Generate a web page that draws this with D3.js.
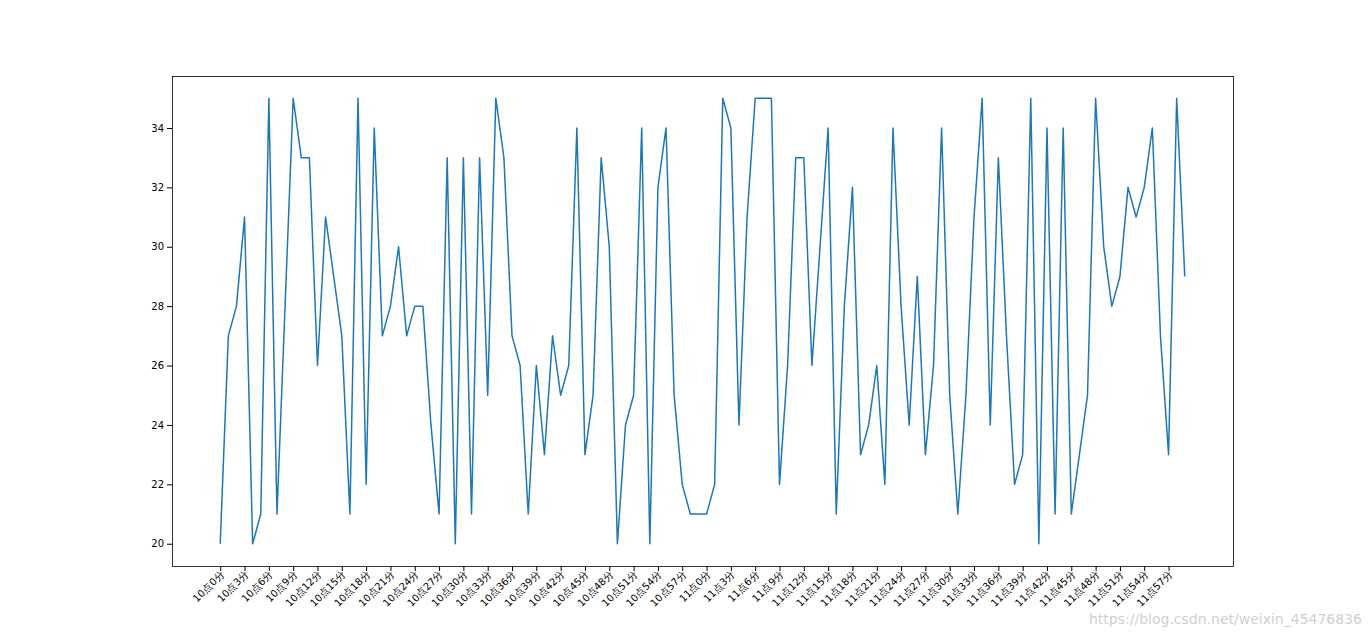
<!DOCTYPE html>
<html><head><meta charset="utf-8">
<script src="https://cdn.jsdelivr.net/npm/d3@7/dist/d3.min.js"></script>
<style>body{margin:0;background:#fff}svg{display:block}</style>
</head><body>
<svg id="c" width="1370" height="637"></svg>
<script>
const values = [20,27,28,31,20,21,35,21,28,35,33,33,26,31,29,27,21,35,22,34,
27,28,30,27,28,28,24,21,33,20,33,21,33,25,35,33,27,26,21,26,
23,27,25,26,34,23,25,33,30,20,24,25,34,20,32,34,25,22,21,21,
21,22,35,34,24,31,35,35,35,22,26,33,33,26,30,34,21,28,32,23,
24,26,22,34,28,24,29,23,26,34,25,21,25,31,35,24,33,27,22,23,
35,20,34,21,34,21,23,25,35,30,28,29,32,31,32,34,27,23,35,29];
const labels = values.map((v,i)=> (10+Math.floor(i/60))+"点"+(i%60)+"分");
const yTicks = [20,22,24,26,28,30,32,34];

const svg = d3.select("#c");
const L=172,R=1233,T=76,B=566;
const x = d3.scaleLinear().domain([-0.05*119, 119*1.05]).range([L,R]);
const y = d3.scaleLinear().domain([19.25,35.75]).range([B,T]);
const font = "DejaVu Sans, sans-serif";

svg.append("path").datum(values)
  .attr("fill","none").attr("stroke","#1f77b4").attr("stroke-width",1.5)
  .attr("stroke-linejoin","round")
  .attr("d", d3.line().x((d,i)=>x(i)).y(d=>y(d)));

svg.append("rect").attr("x",L+0.5).attr("y",T+0.5).attr("width",R-L).attr("height",B-T)
  .attr("fill","none").attr("stroke","#000").attr("stroke-width",0.8);

const xa = svg.append("g").attr("transform",`translate(0,${B})`)
  .call(d3.axisBottom(x).tickValues(d3.range(0,120,3)).tickFormat(i=>labels[i]).tickSize(5).tickSizeOuter(0));
xa.select(".domain").remove();
xa.selectAll("text").attr("font-family",font).attr("font-size",10).attr("fill","#000")
  .attr("text-anchor","end").attr("dy",0).attr("y",0)
  .attr("transform","translate(4,9) rotate(-45)");

const ya = svg.append("g").attr("transform",`translate(${L},0)`)
  .call(d3.axisLeft(y).tickValues(yTicks).tickSize(5).tickSizeOuter(0));
ya.select(".domain").remove();
ya.selectAll("text").attr("font-family",font).attr("font-size",10).attr("fill","#000");

svg.append("text").attr("x",1362).attr("y",624).attr("text-anchor","end")
  .attr("font-family",font).attr("font-size",14).attr("fill","#d0d0d0")
  .text("https://blog.csdn.net/weixin_45476836");
</script>
</body></html>
